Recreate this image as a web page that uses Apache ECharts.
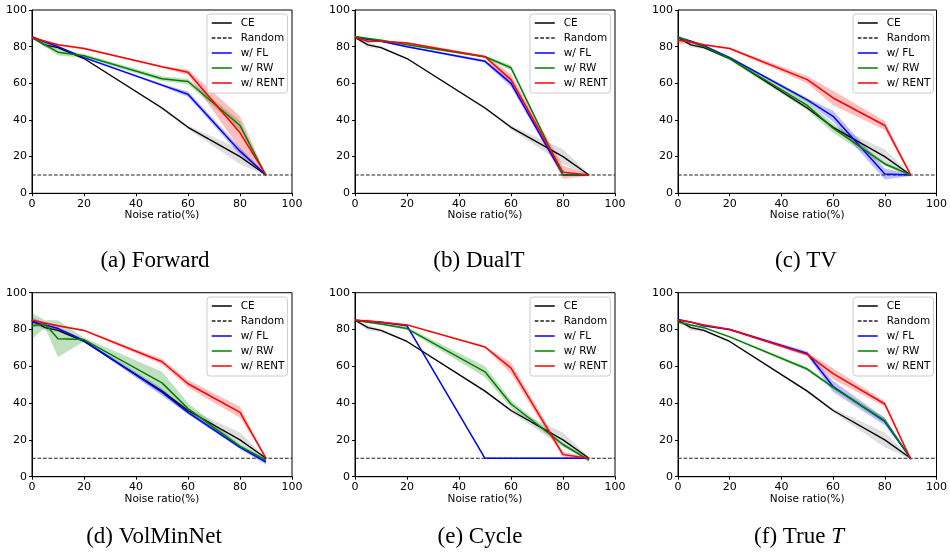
<!DOCTYPE html>
<html>
<head>
<meta charset="utf-8">
<script src="https://cdn.jsdelivr.net/npm/echarts@6/dist/echarts.min.js"></script>
<style>
  html, body { margin: 0; padding: 0; background: #fff; }
  #chart { width: 950px; height: 555px; }
</style>
</head>
<body>
<div id="chart"></div>
<script>
// Test accuracy (%) against noise ratio (%), one panel per transition-matrix estimator.
const noiseRatios = [0, 5, 10, 20, 50, 60, 80, 90];
const randomAcc = 10;

// Plain cross-entropy baseline (same in every panel)
const ceAcc    = [85, 81, 79.5, 73.5, 46.5, 36, 20, 10];
const ceSpread = [0.5, 1.5, 0.8, 0.5, 0.8, 1, 4, 0.5];

// (a) Forward
const forwardFL         = [85.5, 82.5, 80, 74, 59, 54, 23, 10];
const forwardFLSpread   = [0.5, 0.5, 0.5, 0.5, 0.8, 1.5, 2, 0.5];
const forwardRW         = [85, 81, 77, 75, 62.5, 61, 37, 9.5];
const forwardRWSpread   = [0.5, 1, 1.8, 1, 1.3, 1.5, 2.5, 0.5];
const forwardRENT       = [85, 83, 81, 79, 69, 66, 33, 10];
const forwardRENTSpread = [0.8, 0.5, 0.5, 0.5, 0.5, 1.5, 9, 0.5];

// (b) DualT
const dualtFL         = [85, 84, 83, 80, 72, 60, 10, 10];
const dualtFLSpread   = [0.5, 0.5, 0.5, 0.5, 0.8, 2, 0.5, 0.5];
const dualtRW         = [85.5, 84.5, 83.5, 81, 74.5, 68.5, 10, 10];
const dualtRWSpread   = [0.5, 0.5, 0.5, 0.5, 0.5, 1.5, 0.5, 0.5];
const dualtRENT       = [85, 83, 83, 82, 74.5, 62, 11.5, 10];
const dualtRENTSpread = [0.5, 1, 0.5, 0.5, 0.8, 3, 3.5, 0.5];

// (c) TV
const tvFL         = [85, 83, 80.5, 74, 51, 42, 10.5, 10];
const tvFLSpread   = [1, 0.5, 0.5, 0.5, 1, 3, 3, 0.5];
const tvRW         = [85, 82.5, 80, 73.5, 48, 35.5, 16, 10];
const tvRWSpread   = [1, 0.5, 0.5, 1, 2.5, 2.5, 1, 1];
const tvRENT       = [83.5, 82.5, 81, 79, 62, 52, 37, 10];
const tvRENTSpread = [2, 0.8, 0.5, 0.5, 2, 4, 2.5, 1];

// (d) VolMinNet
const volminFL         = [84, 82.5, 80.5, 74, 46, 35, 16, 8];
const volminFLSpread   = [2.5, 1, 0.8, 0.5, 2, 1, 1, 1.5];
const volminRW         = [82, 83, 75, 74.5, 51, 37, 16.5, 9];
const volminRWSpread   = [7, 2, 10, 1, 6, 3, 1, 1];
const volminRENT       = [85, 83.5, 82, 79.5, 62.5, 50.5, 35, 10];
const volminRENTSpread = [0.8, 0.5, 0.5, 0.5, 1.5, 2, 3, 0.5];

// (e) Cycle
const cycleFL         = [85, 84.5, 84, 82, 10, 10, 10, 10];
const cycleFLSpread   = [0.5, 0.5, 0.5, 0.5, 0.3, 0.3, 0.3, 0.3];
const cycleRW         = [85, 84, 83, 80.5, 57, 39.5, 17.5, 9];
const cycleRWSpread   = [0.5, 0.5, 0.5, 0.8, 3, 2, 1, 1];
const cycleRENT       = [85, 84.5, 84, 82.5, 70.5, 59, 12, 10];
const cycleRENTSpread = [0.5, 1, 0.5, 0.5, 0.5, 3, 1.5, 0.5];

// (f) True T
const trueFL         = [85.5, 84, 82, 80, 67, 49, 30, 10];
const trueFLSpread   = [0.5, 0.5, 0.5, 0.5, 1.2, 3, 2, 0.5];
const trueRW         = [84, 82.5, 81, 76, 58.5, 48.5, 30.5, 10];
const trueRWSpread   = [1, 0.5, 0.5, 0.5, 1, 1, 1.5, 0.5];
const trueRENT       = [85, 84, 82.5, 80, 66.5, 56, 39.5, 9.5];
const trueRENTSpread = [0.5, 0.5, 0.5, 0.5, 1, 3, 1.5, 1];

const captions = ['(a) Forward', '(b) DualT', '(c) TV', '(d) VolMinNet', '(e) Cycle', '(f) True {t|T}'];
const legendNames = ['CE', 'Random', 'w/ FL', 'w/ RW', 'w/ RENT'];

const panelMethods = [
  [[forwardFL, forwardFLSpread], [forwardRW, forwardRWSpread], [forwardRENT, forwardRENTSpread]],
  [[dualtFL, dualtFLSpread], [dualtRW, dualtRWSpread], [dualtRENT, dualtRENTSpread]],
  [[tvFL, tvFLSpread], [tvRW, tvRWSpread], [tvRENT, tvRENTSpread]],
  [[volminFL, volminFLSpread], [volminRW, volminRWSpread], [volminRENT, volminRENTSpread]],
  [[cycleFL, cycleFLSpread], [cycleRW, cycleRWSpread], [cycleRENT, cycleRENTSpread]],
  [[trueFL, trueFLSpread], [trueRW, trueRWSpread], [trueRENT, trueRENTSpread]]
];

// Styling and layout
const methodStyle = [
  { name: 'w/ FL',   color: '#0000ff', band: 'rgba(0,0,255,0.25)' },
  { name: 'w/ RW',   color: '#008000', band: 'rgba(0,128,0,0.25)' },
  { name: 'w/ RENT', color: '#ff0000', band: 'rgba(255,0,0,0.25)' }
];
const gridLefts = [32, 355, 678];
const gridWidths = [260, 260, 261];
const gridTops = [10, 292.7];
const gridHeights = [183.3, 184];
const legendLefts = [207, 530, 853];
const legendTops = [14, 297];
const captionCenters = [155, 479, 806, 154, 480, 799];
const captionTops = [249, 525];

const font = 'DejaVu Sans';
const grids = [], xAxes = [], yAxes = [], series = [], legends = [], titles = [];

// Shaded mean ± spread band, drawn as one polygon in data coordinates
function bandSeries(panel, key, mean, spread, color) {
  const rows = noiseRatios.map((x, j) => [x, mean[j] - spread[j], mean[j] + spread[j]]);
  series.push({
    name: key + ' spread ' + panel, type: 'custom',
    xAxisIndex: panel, yAxisIndex: panel,
    coordinateSystem: 'cartesian2d', silent: true, z: 1, clip: true,
    data: [[rows[0][0], rows[0][1]]],
    renderItem: function (params, api) {
      const upper = rows.map(r => api.coord([r[0], r[2]]));
      const lower = rows.slice().reverse().map(r => api.coord([r[0], r[1]]));
      return {
        type: 'polygon',
        shape: { points: upper.concat(lower) },
        style: { fill: color, stroke: null }
      };
    }
  });
}

function lineSeries(panel, name, data, color, width, type) {
  series.push({
    name, type: 'line', xAxisIndex: panel, yAxisIndex: panel,
    data, symbol: 'none', z: 3,
    lineStyle: { color, width, type: type || 'solid' },
    itemStyle: { color }
  });
}

for (let p = 0; p < 6; p++) {
  const col = p % 3, row = Math.floor(p / 3);
  grids.push({
    left: gridLefts[col], top: gridTops[row], width: gridWidths[col], height: gridHeights[row],
    show: true, borderColor: '#000', borderWidth: 1, backgroundColor: 'transparent'
  });
  xAxes.push({
    type: 'value', gridIndex: p, min: 0, max: 100, interval: 20,
    name: 'Noise ratio(%)', nameLocation: 'middle', nameGap: 15,
    nameTextStyle: { fontFamily: font, fontSize: 10.5, color: '#000' },
    axisLine: { show: true, lineStyle: { color: '#000', width: 1 } },
    axisTick: { show: true, length: 3, lineStyle: { color: '#000' } },
    axisLabel: { fontFamily: font, fontSize: 11, color: '#000', margin: 5 },
    splitLine: { show: false }
  });
  yAxes.push({
    type: 'value', gridIndex: p, min: 0, max: 100, interval: 20,
    axisLine: { show: true, lineStyle: { color: '#000', width: 1 } },
    axisTick: { show: true, length: 3, lineStyle: { color: '#000' } },
    axisLabel: { fontFamily: font, fontSize: 11, color: '#000', margin: 5 },
    splitLine: { show: false }
  });

  // shaded spread bands
  bandSeries(p, 'CE', ceAcc, ceSpread, 'rgba(0,0,0,0.13)');
  panelMethods[p].forEach((m, k) => bandSeries(p, methodStyle[k].name, m[0], m[1], methodStyle[k].band));

  // mean curves
  lineSeries(p, 'CE', noiseRatios.map((x, j) => [x, ceAcc[j]]), '#000', 1.3);
  lineSeries(p, 'Random', [[0, randomAcc], [100, randomAcc]], '#222', 1.1, [3.7, 1.8]);
  panelMethods[p].forEach((m, k) =>
    lineSeries(p, methodStyle[k].name, noiseRatios.map((x, j) => [x, m[0][j]]), methodStyle[k].color, 1.5));

  legends.push({
    data: legendNames, orient: 'vertical',
    left: legendLefts[col], top: legendTops[row],
    itemWidth: 20, itemHeight: 10, itemGap: 1,
    padding: [2, 3, 3, 4],
    backgroundColor: 'rgba(255,255,255,0.8)', borderColor: '#cccccc', borderWidth: 1, borderRadius: 3,
    textStyle: { fontFamily: font, fontSize: 10.5, color: '#000', lineHeight: 14, padding: [0, 0, 0, 4] },
    itemStyle: { opacity: 0 },
    lineStyle: { width: 1.5 },
    selectedMode: false
  });

  titles.push({
    text: captions[p], left: captionCenters[p], top: captionTops[row], textAlign: 'center', padding: 0,
    textStyle: {
      fontFamily: 'Liberation Serif', fontSize: 23, fontWeight: 'normal', color: '#000',
      rich: { t: { fontFamily: 'Liberation Serif', fontSize: 23, fontStyle: 'italic', color: '#000' } }
    }
  });
}

const chart = echarts.init(document.getElementById('chart'), null, { renderer: 'canvas' });
chart.setOption({
  animation: false,
  backgroundColor: '#fff',
  title: titles,
  legend: legends,
  grid: grids,
  xAxis: xAxes,
  yAxis: yAxes,
  series
});
</script>
</body>
</html>
